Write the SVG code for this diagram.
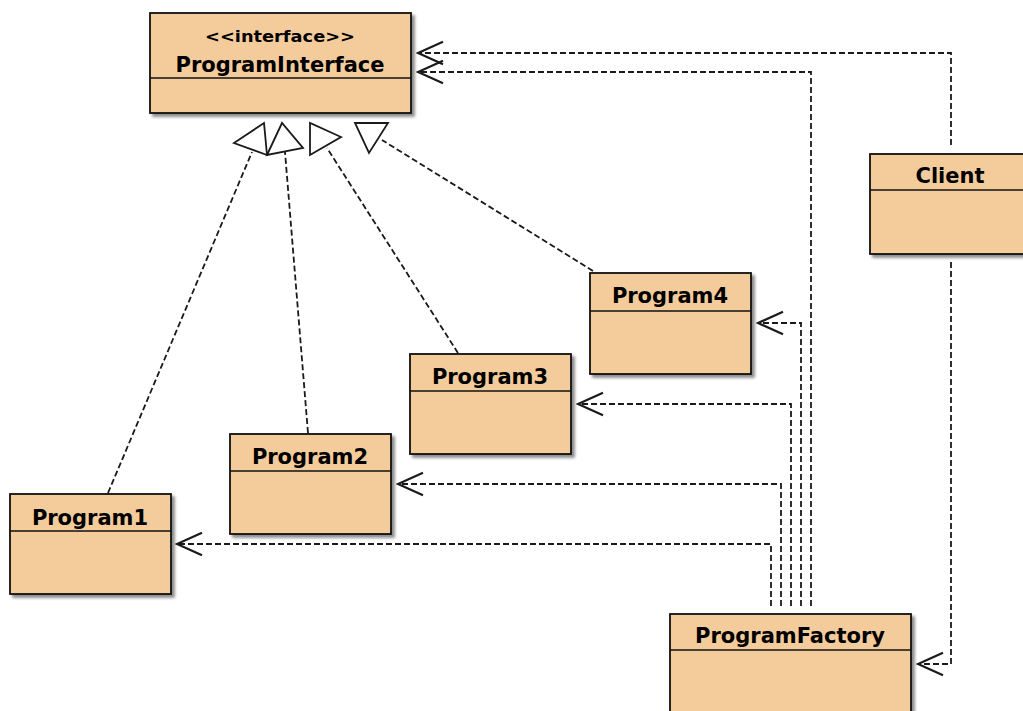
<svg xmlns="http://www.w3.org/2000/svg" width="1023" height="711" viewBox="0 0 1023 711">
<defs>
<filter id="sh" x="-10%" y="-10%" width="130%" height="130%">
<feDropShadow dx="3" dy="3" stdDeviation="1.5" flood-color="#000" flood-opacity="0.45"/>
</filter>
<marker id="open" markerUnits="userSpaceOnUse" markerWidth="30" markerHeight="30" viewBox="-22 -11 24 22" refX="0" refY="0" orient="auto">
<path d="M-20,-9 L0,0 L-20,9" fill="none" stroke="#1a1a1a" stroke-width="1.8" stroke-dasharray="none"/>
</marker>
<style>
.box{fill:#f4cc9b;stroke:#111;stroke-width:1.8;filter:url(#sh)}
.div{stroke:#111;stroke-width:1.5}
.t{font-family:"DejaVu Sans",sans-serif;font-weight:bold;font-size:21px;fill:#000;text-anchor:middle}
.st{font-family:"DejaVu Sans",sans-serif;font-weight:bold;font-size:16px;fill:#000;text-anchor:middle}
.dep{fill:none;stroke:#1a1a1a;stroke-width:1.8;stroke-dasharray:6 3;marker-end:url(#open)}
.real{fill:none;stroke:#1a1a1a;stroke-width:1.8;stroke-dasharray:6 3}
.tri{fill:#fff;stroke:#1a1a1a;stroke-width:1.8}
</style>
</defs>

<g id="connectors">
<path class="real" d="M108,493 L252,152"/>
<path class="real" d="M308,433 L285,152"/>
<path class="real" d="M458,353 L327,148"/>
<path class="real" d="M593,271 L382,140"/>
<polygon class="tri" points="234,143 264,123 267,155"/>
<polygon class="tri" points="267,155 282,123 303,148"/>
<polygon class="tri" points="310,123 310,155 341,137"/>
<polygon class="tri" points="355,123 388,123 369,153"/>
<path class="dep" d="M951,145 V53 H418"/>
<path class="dep" d="M811,606 V72 H418"/>
<path class="dep" d="M801,606 V323 H758"/>
<path class="dep" d="M791,606 V404 H578"/>
<path class="dep" d="M781,606 V484 H398"/>
<path class="dep" d="M771,606 V544 H177"/>
<path class="dep" d="M951,262 V664 H918"/>
</g>

<g id="ProgramInterface">
<rect class="box" x="150" y="13" width="261" height="100"/>
<line class="div" x1="150" y1="78" x2="411" y2="78"/>
<text class="st" x="280" y="42" textLength="150" lengthAdjust="spacingAndGlyphs">&lt;&lt;interface&gt;&gt;</text>
<text class="t" x="280" y="72">ProgramInterface</text>
</g>

<g id="Client">
<rect class="box" x="870" y="154" width="160" height="100"/>
<line class="div" x1="870" y1="190" x2="1030" y2="190"/>
<text class="t" x="950" y="183">Client</text>
</g>

<g id="Program4">
<rect class="box" x="590" y="273" width="161" height="101"/>
<line class="div" x1="590" y1="311" x2="751" y2="311"/>
<text class="t" x="670" y="303">Program4</text>
</g>

<g id="Program3">
<rect class="box" x="410" y="354" width="161" height="100"/>
<line class="div" x1="410" y1="391" x2="571" y2="391"/>
<text class="t" x="490" y="384">Program3</text>
</g>

<g id="Program2">
<rect class="box" x="230" y="434" width="161" height="100"/>
<line class="div" x1="230" y1="471" x2="391" y2="471"/>
<text class="t" x="310" y="464">Program2</text>
</g>

<g id="Program1">
<rect class="box" x="10" y="494" width="161" height="100"/>
<line class="div" x1="10" y1="531" x2="171" y2="531"/>
<text class="t" x="90" y="525">Program1</text>
</g>

<g id="ProgramFactory">
<rect class="box" x="670" y="614" width="241" height="110"/>
<line class="div" x1="670" y1="650" x2="911" y2="650"/>
<text class="t" x="790" y="643">ProgramFactory</text>
</g>
</svg>
